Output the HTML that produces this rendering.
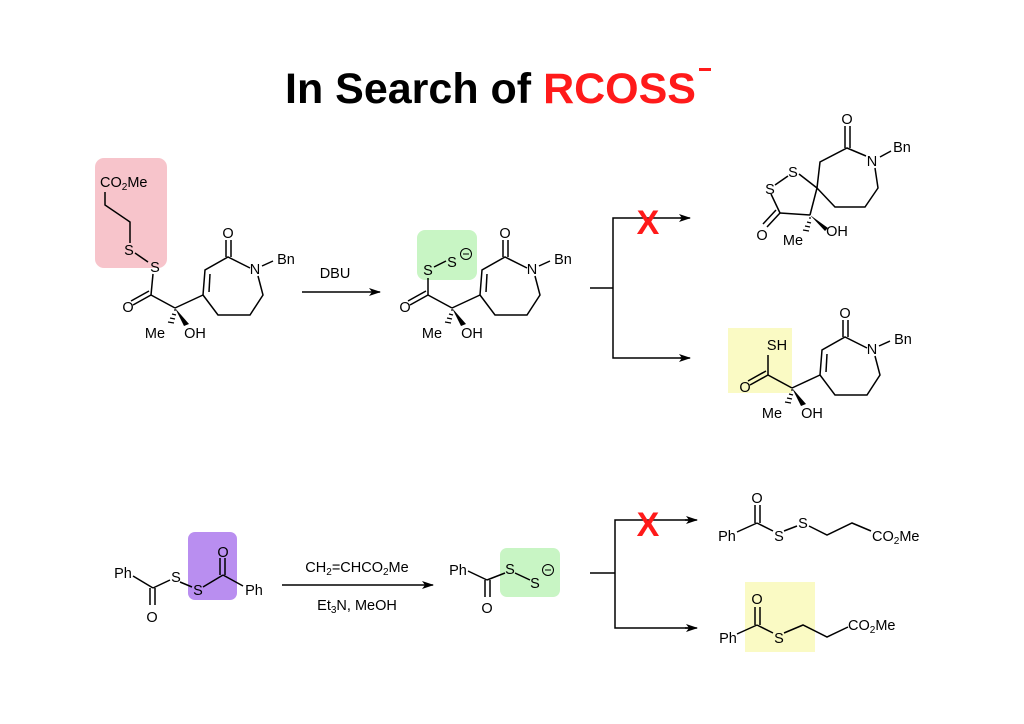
<!DOCTYPE html>
<html><head><meta charset="utf-8"><style>
html,body{margin:0;padding:0;background:#fff;width:1024px;height:724px;overflow:hidden}
svg{display:block}
text{font-family:"Liberation Sans",sans-serif;font-size:14.5px;fill:#000}
.t{font-size:43px;font-weight:bold}
</style></head><body>
<svg width="1024" height="724" viewBox="0 0 1024 724" xmlns="http://www.w3.org/2000/svg">
<defs>
<marker id="ah" viewBox="0 0 12 8" refX="11" refY="4" markerWidth="12" markerHeight="8" markerUnits="userSpaceOnUse" orient="auto"><path d="M0,0 L12,4 L0,8 L3,4 Z" fill="#000"/></marker>
<g id="core">
  <line x1="428" y1="295" x2="410" y2="305" stroke="#000" stroke-width="1.5"/>
  <line x1="426" y1="291" x2="408" y2="301" stroke="#000" stroke-width="1.5"/>
  <text x="405" y="312" text-anchor="middle">O</text>
  <line x1="428" y1="295" x2="452" y2="308" stroke="#000" stroke-width="1.5"/>
  <g stroke="#000" stroke-width="1.2">
    <line x1="451" y1="310" x2="453" y2="310"/><line x1="449" y1="314" x2="453" y2="315"/>
    <line x1="447" y1="318" x2="452" y2="319"/><line x1="445" y1="322" x2="451" y2="323"/>
  </g>
  <text x="432" y="338" text-anchor="middle">Me</text>
  <polygon points="452,308 466,324 461,326" fill="#000"/>
  <text x="472" y="338" text-anchor="middle">OH</text>
  <line x1="452" y1="308" x2="480" y2="295" stroke="#000" stroke-width="1.5"/>
  <polyline points="480,295 482,270 505,257 527,268" fill="none" stroke="#000" stroke-width="1.5"/>
  <line x1="486" y1="292" x2="487" y2="274" stroke="#000" stroke-width="1.5"/>
  <line x1="503" y1="257" x2="503" y2="240" stroke="#000" stroke-width="1.5"/>
  <line x1="508" y1="257" x2="508" y2="240" stroke="#000" stroke-width="1.5"/>
  <text x="505" y="238" text-anchor="middle">O</text>
  <text x="532" y="274" text-anchor="middle">N</text>
  <line x1="539" y1="266" x2="550" y2="261" stroke="#000" stroke-width="1.5"/>
  <text x="563" y="264" text-anchor="middle">Bn</text>
  <polyline points="535,276 540,295 527,315 495,315 480,295" fill="none" stroke="#000" stroke-width="1.5"/>
</g>
</defs>

<text class="t" x="285" y="103">In Search of <tspan fill="#ff1a1a">RCOSS</tspan></text>
<rect x="699" y="68" width="12" height="3" fill="#ff1a1a"/>

<rect x="95" y="158" width="72" height="110" rx="9" fill="#f7c4cb"/>
<use href="#core" transform="translate(-277,0)"/>
<line x1="151" y1="295" x2="153" y2="274" stroke="#000" stroke-width="1.5"/>
<text x="155" y="272" text-anchor="middle">S</text>
<line x1="135" y1="253" x2="148" y2="262" stroke="#000" stroke-width="1.5"/>
<text x="129" y="255" text-anchor="middle">S</text>
<polyline points="130,243 130,222 105,205 105,192" fill="none" stroke="#000" stroke-width="1.5"/>
<text x="100" y="187">CO<tspan font-size="10" dy="3">2</tspan><tspan dy="-3">Me</tspan></text>

<line x1="302" y1="292" x2="380" y2="292" stroke="#000" stroke-width="1.5" marker-end="url(#ah)"/>
<text x="335" y="278" text-anchor="middle">DBU</text>

<rect x="417" y="230" width="60" height="50" rx="8" fill="#c8f5c4"/>
<use href="#core"/>
<line x1="428" y1="295" x2="428" y2="278" stroke="#000" stroke-width="1.5"/>
<text x="428" y="275" text-anchor="middle">S</text>
<line x1="434" y1="267" x2="446" y2="261" stroke="#000" stroke-width="1.5"/>
<text x="452" y="267" text-anchor="middle">S</text>
<circle cx="466" cy="254" r="5.5" fill="none" stroke="#000" stroke-width="1"/>
<line x1="463" y1="254" x2="469" y2="254" stroke="#000" stroke-width="1"/>

<line x1="590" y1="288" x2="613" y2="288" stroke="#000" stroke-width="1.5"/>
<polyline points="688,218 613,218 613,358 688,358" fill="none" stroke="#000" stroke-width="1.5"/>
<line x1="680" y1="218" x2="690" y2="218" stroke="#000" stroke-width="1.5" marker-end="url(#ah)"/>
<line x1="680" y1="358" x2="690" y2="358" stroke="#000" stroke-width="1.5" marker-end="url(#ah)"/>
<text x="648" y="234" text-anchor="middle" style="font-size:34px;font-weight:bold;fill:#ff1a1a">X</text>

<g stroke="#000" stroke-width="1.5" fill="none">
  <line x1="799" y1="174" x2="817" y2="188"/>
  <line x1="775" y1="185" x2="788" y2="176"/>
  <line x1="771" y1="194" x2="780" y2="213"/>
  <line x1="780" y1="213" x2="810" y2="215"/>
  <line x1="780" y1="213" x2="767" y2="227"/>
  <line x1="776" y1="210" x2="763" y2="224"/>
  <line x1="810" y1="215" x2="817" y2="188"/>
  <polyline points="817,188 820,162 847,148 866,156"/>
  <line x1="845" y1="148" x2="845" y2="126"/>
  <line x1="850" y1="148" x2="850" y2="126"/>
  <polyline points="875,168 878,188 865,207 835,207 817,188"/>
  <line x1="880" y1="157" x2="891" y2="151"/>
</g>
<text x="847" y="124" text-anchor="middle">O</text>
<text x="872" y="166" text-anchor="middle">N</text>
<text x="902" y="152" text-anchor="middle">Bn</text>
<text x="793" y="177" text-anchor="middle">S</text>
<text x="770" y="194" text-anchor="middle">S</text>
<text x="762" y="240" text-anchor="middle">O</text>
<g stroke="#000" stroke-width="1.2">
  <line x1="809" y1="218" x2="811" y2="218"/><line x1="807" y1="222" x2="811" y2="223"/>
  <line x1="805" y1="226" x2="810" y2="227"/><line x1="803" y1="230" x2="809" y2="231"/>
</g>
<polygon points="810,215 828,228 825,231" fill="#000"/>
<text x="793" y="245" text-anchor="middle">Me</text>
<text x="837" y="236" text-anchor="middle">OH</text>

<rect x="728" y="328" width="64" height="65" fill="#fafac4"/>
<use href="#core" transform="translate(340,80)"/>
<line x1="768" y1="375" x2="768" y2="355" stroke="#000" stroke-width="1.5"/>
<text x="777" y="350" text-anchor="middle">SH</text>

<rect x="188" y="532" width="49" height="68" rx="7" fill="#b98ef0"/>
<g stroke="#000" stroke-width="1.5" fill="none">
  <line x1="133" y1="576" x2="153" y2="588"/>
  <line x1="153" y1="588" x2="170" y2="580"/>
  <line x1="150" y1="588" x2="150" y2="605"/>
  <line x1="155" y1="588" x2="155" y2="605"/>
  <line x1="180" y1="582" x2="192" y2="587"/>
  <line x1="203" y1="587" x2="223" y2="575"/>
  <line x1="220" y1="575" x2="220" y2="558"/>
  <line x1="225" y1="575" x2="225" y2="558"/>
  <line x1="223" y1="575" x2="243" y2="586"/>
</g>
<text x="123" y="578" text-anchor="middle">Ph</text>
<text x="152" y="622" text-anchor="middle">O</text>
<text x="176" y="582" text-anchor="middle">S</text>
<text x="198" y="595" text-anchor="middle">S</text>
<text x="223" y="557" text-anchor="middle">O</text>
<text x="254" y="595" text-anchor="middle">Ph</text>

<line x1="282" y1="585" x2="433" y2="585" stroke="#000" stroke-width="1.5" marker-end="url(#ah)"/>
<text x="357" y="572" text-anchor="middle">CH<tspan font-size="10" dy="3">2</tspan><tspan dy="-3">=CHCO</tspan><tspan font-size="10" dy="3">2</tspan><tspan dy="-3">Me</tspan></text>
<text x="357" y="610" text-anchor="middle">Et<tspan font-size="10" dy="3">3</tspan><tspan dy="-3">N, MeOH</tspan></text>

<rect x="500" y="548" width="60" height="49" rx="7" fill="#c8f5c4"/>
<g stroke="#000" stroke-width="1.5" fill="none">
  <line x1="468" y1="571" x2="487" y2="580"/>
  <line x1="487" y1="580" x2="505" y2="573"/>
  <line x1="485" y1="580" x2="485" y2="597"/>
  <line x1="490" y1="580" x2="490" y2="597"/>
  <line x1="515" y1="573" x2="530" y2="580"/>
</g>
<text x="458" y="575" text-anchor="middle">Ph</text>
<text x="487" y="613" text-anchor="middle">O</text>
<text x="510" y="574" text-anchor="middle">S</text>
<text x="535" y="588" text-anchor="middle">S</text>
<circle cx="548" cy="570" r="5.5" fill="none" stroke="#000" stroke-width="1"/>
<line x1="545" y1="570" x2="551" y2="570" stroke="#000" stroke-width="1"/>

<line x1="590" y1="573" x2="615" y2="573" stroke="#000" stroke-width="1.5"/>
<polyline points="690,520 615,520 615,628 690,628" fill="none" stroke="#000" stroke-width="1.5"/>
<line x1="685" y1="520" x2="697" y2="520" stroke="#000" stroke-width="1.5" marker-end="url(#ah)"/>
<line x1="685" y1="628" x2="697" y2="628" stroke="#000" stroke-width="1.5" marker-end="url(#ah)"/>
<text x="648" y="536" text-anchor="middle" style="font-size:34px;font-weight:bold;fill:#ff1a1a">X</text>

<g stroke="#000" stroke-width="1.5" fill="none">
  <line x1="737" y1="532" x2="757" y2="523"/>
  <line x1="755" y1="523" x2="755" y2="505"/>
  <line x1="760" y1="523" x2="760" y2="505"/>
  <line x1="757" y1="523" x2="773" y2="531"/>
  <line x1="784" y1="531" x2="797" y2="526"/>
  <polyline points="809,526 827,535 852,523 871,531"/>
</g>
<text x="727" y="541" text-anchor="middle">Ph</text>
<text x="757" y="503" text-anchor="middle">O</text>
<text x="779" y="541" text-anchor="middle">S</text>
<text x="803" y="528" text-anchor="middle">S</text>
<text x="872" y="541">CO<tspan font-size="10" dy="3">2</tspan><tspan dy="-3">Me</tspan></text>

<rect x="745" y="582" width="70" height="70" fill="#fafac4"/>
<g stroke="#000" stroke-width="1.5" fill="none">
  <line x1="737" y1="634" x2="757" y2="625"/>
  <line x1="755" y1="625" x2="755" y2="607"/>
  <line x1="760" y1="625" x2="760" y2="607"/>
  <line x1="757" y1="625" x2="773" y2="633"/>
  <polyline points="784,633 803,625 827,637 848,627"/>
</g>
<text x="728" y="643" text-anchor="middle">Ph</text>
<text x="757" y="604" text-anchor="middle">O</text>
<text x="779" y="643" text-anchor="middle">S</text>
<text x="848" y="630">CO<tspan font-size="10" dy="3">2</tspan><tspan dy="-3">Me</tspan></text>
</svg>
</body></html>
